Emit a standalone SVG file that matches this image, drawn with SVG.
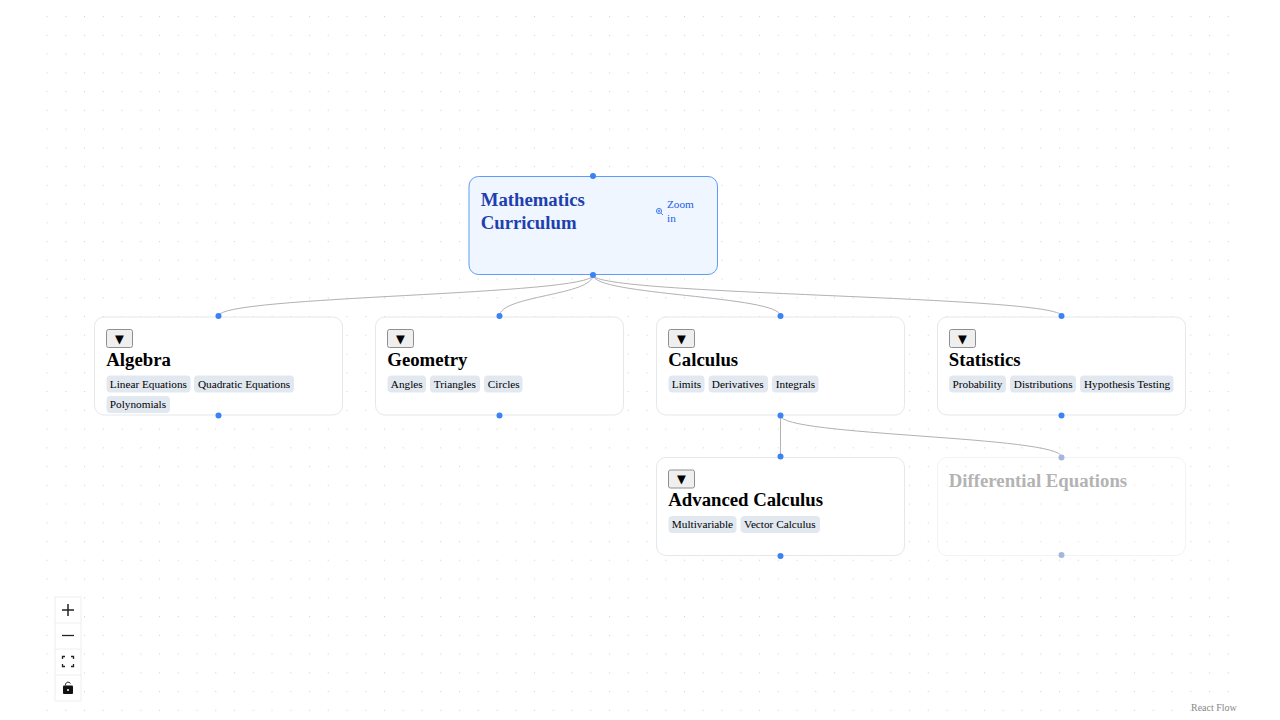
<svg xmlns="http://www.w3.org/2000/svg" width="1280" height="720" viewBox="0 0 1280 720">
<style>
text{font-family:"Liberation Serif","Times New Roman",serif}
.node{fill:#fff;stroke:#e5e7eb;stroke-width:1}
.title{font-size:18.75px;font-weight:700;fill:#000}
.tag{fill:#e2e8f0}
.tagt{font-size:11.25px;fill:#000}
.btn{fill:#efefef;stroke:#8f8f8f;stroke-width:1}
.tri{font-size:11.5px;fill:#000;text-anchor:middle;font-family:"DejaVu Sans",sans-serif}
.h{fill:#3b82f6}
.edge{fill:none;stroke:#b1b1b7;stroke-width:1}
</style>
<defs>
<pattern id="dots" x="46.5" y="16" width="18.75" height="18.75" patternUnits="userSpaceOnUse"><circle cx="0.5" cy="0.5" r="0.65" fill="#d6d6d6"/></pattern>
</defs>
<rect width="1280" height="720" fill="#fff"/>
<rect x="45" y="15" width="1187" height="697" fill="url(#dots)"/>
<g id="connectors">
<path class="edge" d="M593 275C593 295.500 218.500 295.500 218.500 316"/>
<path class="edge" d="M593 275C593 295.500 499.500 295.500 499.500 316"/>
<path class="edge" d="M593 275C593 295.500 780.500 295.500 780.500 316"/>
<path class="edge" d="M593 275C593 295.500 1061.500 295.500 1061.500 316"/>
<path class="edge" d="M780.500 415.500L780.500 456.500"/>
<path class="edge" d="M780.500 415.500C780.500 436 1061.500 436 1061.500 457"/>
</g>
<g id="node-root">
<rect x="469" y="176.500" width="248.500" height="98" rx="9.500" fill="#eff6ff" stroke="#5f9bf7"/>
<text x="480.700" y="205.500" font-size="18.750" font-weight="700" fill="#1e40af">Mathematics</text>
<text x="480.700" y="228.500" font-size="18.750" font-weight="700" fill="#1e40af">Curriculum</text>
<g fill="none" stroke="#2563eb" stroke-width="0.800"><circle cx="659" cy="211" r="2.600"/><path d="M661 213L663 215M657.700 211H660.300M659 209.700V212.300"/></g>
<text x="667" y="208" font-size="11.250" fill="#1d5be8">Zoom</text>
<text x="667" y="222" font-size="11.250" fill="#1d5be8">in</text>
<circle class="h" cx="593" cy="176" r="3"/>
<circle class="h" cx="593" cy="275" r="3"/>
</g>
<g id="node-algebra">
<rect class="node" x="94.500" y="317" width="248" height="98" rx="9.500"/>
<rect class="btn" x="106.500" y="329.500" width="26" height="18" rx="2"/>
<text class="tri" x="119.500" y="342.500">▼</text>
<text class="title" x="106.300" y="365.500">Algebra</text>
<rect class="tag" x="106.500" y="375.500" width="84" height="17" rx="4"/>
<text class="tagt" x="109.800" y="388">Linear Equations</text>
<rect class="tag" x="194" y="375.500" width="100" height="17" rx="4"/>
<text class="tagt" x="198" y="388">Quadratic Equations</text>
<rect class="tag" x="106.500" y="396" width="63.500" height="17" rx="4"/>
<text class="tagt" x="109.800" y="408">Polynomials</text>
<circle class="h" cx="218.500" cy="316" r="3"/>
<circle class="h" cx="218.500" cy="415.500" r="3"/>
</g>
<g id="node-geometry">
<rect class="node" x="375.500" y="317" width="248" height="98" rx="9.500"/>
<rect class="btn" x="387.500" y="329.500" width="26" height="18" rx="2"/>
<text class="tri" x="400.500" y="342.500">▼</text>
<text class="title" x="387.300" y="365.500">Geometry</text>
<rect class="tag" x="387.500" y="375.500" width="38.500" height="17" rx="4"/>
<text class="tagt" x="390.800" y="388">Angles</text>
<rect class="tag" x="430" y="375.500" width="50" height="17" rx="4"/>
<text class="tagt" x="433.800" y="388">Triangles</text>
<rect class="tag" x="484" y="375.500" width="38.500" height="17" rx="4"/>
<text class="tagt" x="487.800" y="388">Circles</text>
<circle class="h" cx="499.500" cy="316" r="3"/>
<circle class="h" cx="499.500" cy="415.500" r="3"/>
</g>
<g id="node-calculus">
<rect class="node" x="656.500" y="317" width="248" height="98" rx="9.500"/>
<rect class="btn" x="668.500" y="329.500" width="26" height="18" rx="2"/>
<text class="tri" x="681.500" y="342.500">▼</text>
<text class="title" x="668.300" y="365.500">Calculus</text>
<rect class="tag" x="668.500" y="375.500" width="36" height="17" rx="4"/>
<text class="tagt" x="671.800" y="388">Limits</text>
<rect class="tag" x="708.500" y="375.500" width="59.500" height="17" rx="4"/>
<text class="tagt" x="711.800" y="388">Derivatives</text>
<rect class="tag" x="772" y="375.500" width="46.500" height="17" rx="4"/>
<text class="tagt" x="775.800" y="388">Integrals</text>
<circle class="h" cx="780.500" cy="316" r="3"/>
<circle class="h" cx="780.500" cy="415.500" r="3"/>
</g>
<g id="node-statistics">
<rect class="node" x="937.500" y="317" width="248" height="98" rx="9.500"/>
<rect class="btn" x="949.500" y="329.500" width="26" height="18" rx="2"/>
<text class="tri" x="962.500" y="342.500">▼</text>
<text class="title" x="948.800" y="365.500">Statistics</text>
<rect class="tag" x="949" y="375.500" width="57" height="17" rx="4"/>
<text class="tagt" x="952.500" y="388">Probability</text>
<rect class="tag" x="1010" y="375.500" width="66" height="17" rx="4"/>
<text class="tagt" x="1013.800" y="388">Distributions</text>
<rect class="tag" x="1080" y="375.500" width="93.500" height="17" rx="4"/>
<text class="tagt" x="1084" y="388">Hypothesis Testing</text>
<circle class="h" cx="1061.500" cy="316" r="3"/>
<circle class="h" cx="1061.500" cy="415.500" r="3"/>
</g>
<g id="node-advanced">
<rect class="node" x="656.500" y="457.500" width="248" height="98" rx="9.500"/>
<rect class="btn" x="668.500" y="470" width="26" height="18" rx="2"/>
<text class="tri" x="681.500" y="483">▼</text>
<text class="title" x="668.300" y="506">Advanced Calculus</text>
<rect class="tag" x="668.500" y="516" width="68" height="17" rx="4"/>
<text class="tagt" x="671.800" y="528">Multivariable</text>
<rect class="tag" x="740.500" y="516" width="79.500" height="17" rx="4"/>
<text class="tagt" x="744" y="528">Vector Calculus</text>
<circle class="h" cx="780.500" cy="456.500" r="3"/>
<circle class="h" cx="780.500" cy="556" r="3"/>
</g>
<g id="node-differential">
<rect x="937.500" y="457.500" width="248" height="98" rx="9.500" fill="#fff" fill-opacity="0.3" stroke="#f2f3f5"/>
<text x="948.800" y="487" font-size="18.750" font-weight="700" fill="#b3b3b3">Differential Equations</text>
<circle cx="1061.500" cy="457.500" r="3" fill="#a3b7de"/>
<circle cx="1061.500" cy="555" r="3" fill="#a3b7de"/>
</g>
<g id="controls">
<rect x="55" y="597" width="26" height="104" fill="#fff" stroke="#eee"/>
<path d="M55 623H81M55 649H81M55 675H81" stroke="#eee" fill="none"/>
<path d="M62 610H74M68 604V616" stroke="#222" stroke-width="1.500" fill="none"/>
<path d="M62 635.500H74" stroke="#222" stroke-width="1.300" fill="none"/>
<path d="M62.500 659V656.500H65M71 656.500H73.500V659M73.500 664V666.500H71M65 666.500H62.500V664" stroke="#222" stroke-width="1.300" fill="none"/>
<path d="M63 686.500a1 1 0 0 1 1-1h8a1 1 0 0 1 1 1v6.500a1 1 0 0 1-1 1h-8a1 1 0 0 1-1-1z" fill="#111"/>
<path d="M65.500 685.500c0-4 3.500-4 5-2" stroke="#111" stroke-width="1" fill="none"/>
<circle cx="68" cy="690" r="1" fill="#fff"/>
</g>
<text x="1191" y="711" font-size="10" fill="#888">React Flow</text>
</svg>
